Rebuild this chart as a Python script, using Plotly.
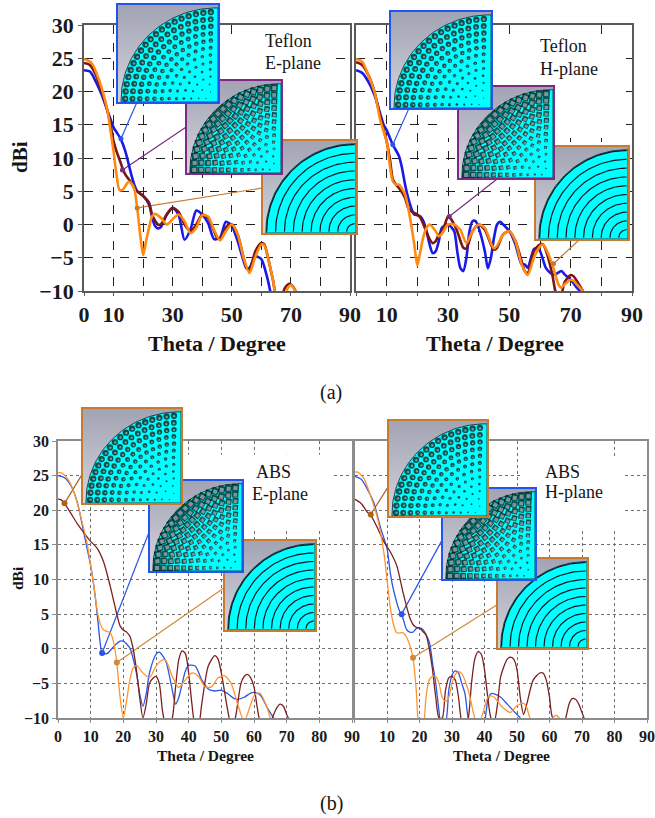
import math
import plotly.graph_objects as go

# ---------- chart data ----------
te_blue_x = [0,2,4,6,8,9,10,12,12.5,14,16,17,18,20,22,23,24,25,26,28,30,32,34,36,38,40,42,44,46,48,50,52,54,55,56,58,60,62,63,63.5]
te_blue_y = [23.2,23,21.5,19.5,17,15.8,14.6,13.2,12.8,11,7.5,6,5,4.3,3,1.2,-0.2,-0.6,-0.4,1.5,2.5,1.5,-2.3,-0.8,2.1,1.5,0.2,-2.2,-2,0.4,-0.2,-2.5,-5.5,-6.6,-6.5,-4.8,-5.2,-8,-10,-11]
te_red_x = [0,2,4,6,8,9,10,11,12,13,14,16,17,18,20,22,23,24,25,26,28,30,32,34,36,38,40,42,44,45,46,48,49,50,52,54,55,56,58,60,61,62,64,65,67,68,69.5,71,72]
te_red_y = [24.3,24,22.5,20,17,15,12.5,11,9.8,8.5,7.5,6.3,5.5,5,4.3,3.3,1.5,0.6,0,0,1.5,2.5,1.9,0,-1,0,1.5,1,-1,-2,-2.2,-0.5,0,0,-1.5,-5,-6.5,-6.8,-4,-2.8,-3,-4.5,-8.5,-10.5,-10.5,-9.5,-8.9,-9.5,-10.5]
te_or_x = [0,2,3,4,6,8,9,10,11,12,13,14,15,16,17,18,19,20,21,22,23,24,26,28,30,32,34,36,38,40,42,44,46,48,50,52,54,56,58,60,61,62,64,65,68,69,70,71,72]
te_or_y = [24.9,24.5,24,23,20.5,17,14,11,7.5,5.2,5.2,5.8,6.4,6.2,5.4,2.5,-1.5,-4.6,-2.5,-0.5,1.2,1.6,1,0,0.8,1.5,0.5,-1.3,-0.5,1.4,1.2,-0.8,-2.4,-1,0,-1.5,-5,-7.3,-4.8,-3,-3.1,-4.5,-8.5,-10.5,-10.5,-9.5,-9.1,-9.6,-10.5]

th_blue_x = [0,2,4,6,8,9,10,12,14,15,16,17,18,19,20,21,22,23,24,25,26,27,28,30,32,33,34,35,36,37,38,39,40,42,43,44,45,46,47,48,50,52,54,55,56,58,59,60,62,64,65,67,68,70,72,73,74]
th_blue_y = [23.2,22.8,21.5,19.5,16.5,15,14.2,12,10.3,8.5,6,4,2.5,1.5,1.4,1.2,0.5,-1,-3,-4.3,-4,-2.5,-0.5,0,-1,-4,-6.5,-7,-5,-1,0.5,0.5,-0.5,-4,-6.6,-5,-2,0,0.4,0,-1,-3,-6,-6,-6.5,-3.7,-3.6,-4,-6.6,-7.5,-7.5,-7,-7.5,-8.3,-9.5,-10,-11]
th_red_x = [0,2,4,6,8,10,11,12,13,14,16,17,18,20,21,22,24,25,26,27,28,29,30,31,32,33,35,36,38,40,42,44,45,46,48,50,52,54,55,56,58,60,61,62,64,65,66,67,68,70,71,72,74]
th_red_y = [24.4,24,22.5,20,16,12.5,10,6.8,6,5.5,4,2.5,2,1.5,1,0,-2.2,-2.8,-2.5,-1.5,-1.1,0,1.2,0.8,0,-1,-3.5,-3.6,-1,0,-0.8,-3,-3.8,-3.5,-1.5,-1,-2.5,-5.5,-7,-7.3,-4,-3,-3,-4,-7.5,-10,-11,-10.5,-8.7,-7.6,-7.8,-8.5,-10]
th_or_x = [0,2,4,6,8,10,11,12,13,14,16,17,18,19,20,21,22,23,24,26,27,28,30,32,34,36,38,40,42,44,45,46,48,50,52,54,56,58,60,61,62,64,66,67,68,70,71,72,74]
th_or_y = [24.9,24.5,22.5,20,15.5,12.5,9,6.5,6,6,4.5,2.5,0,-3,-6.2,-4,-1.8,-0.5,0,-1,-1.8,-1.4,0,0,-0.8,-2.8,-1,0,-0.5,-2.8,-3.6,-3.2,-1.5,-1,-2.5,-6,-7.6,-5,-3.3,-3,-3.7,-6,-9,-9.5,-9,-8.3,-8.5,-9,-10]

ae_blue_x = [0,2,4,6,8,10,11,12,13,13.5,15,17,19,20,22,24,25,26,27,28,30,31,33,35,36,37,39,40,42,44,46,48,50,52,54,55,57,59,60,62,64,66,67]
ae_blue_y = [25,24.7,23.5,21,16.5,12,9,5,0.5,-0.6,-0.7,0.3,1.1,1.1,0.1,-3.5,-6.5,-8.3,-6.5,-3.5,-0.8,-0.5,-1.8,-6,-8,-7,-3.2,-2.4,-2.5,-4.5,-5.8,-6.1,-6,-6.5,-7.2,-7.3,-7,-6.4,-6.3,-6.7,-8.5,-10,-11]
ae_red_x = [0,1,2,4,6,8,10,12,14,16,18,19,20,21,22,23,24,25,26,27,28,29,30,31,32,33,34,35,36,37,38,39,40,41,42,43,44,46,48,49,50,52,53,54,56,57,58,59,60,61,62,65,66,67,68,69,70,71]
ae_red_y = [21.6,21.5,21,19.5,18,16.7,15.5,14.5,12.5,9,5,3.3,2.7,2.4,1.8,0,-3,-7,-10,-8,-5,-4.3,-4,-5,-9,-11,-11,-10,-5.5,-1.5,-0.3,-0.7,-3.5,-8,-11,-11,-8,-2.5,-1,-1.5,-3.5,-9,-11,-10.5,-5,-4,-3.7,-4.2,-5.5,-8.5,-10.5,-10.5,-9.5,-8.5,-8,-8.3,-9.5,-10.5]
ae_or_x = [0,1,3,5,7,9,10,11,12,13,14,16,17,18,19,20,21,22,23,24,26,28,30,32,33,35,37,39,41,43,45,47,49,51,53,55,57,59,60,61,62,64,65,66]
ae_or_y = [25.4,25.4,24.5,22.5,19,15,12,9,5.5,3.5,2.7,2.3,1,-2,-7,-10,-7.5,-4.5,-2.8,-2.4,-3.5,-4.2,-2.5,-1.6,-1.7,-4,-5.6,-4.5,-3.5,-4,-5.5,-5.5,-4.2,-3.9,-5,-8,-10.5,-8,-6.8,-6.4,-6.5,-8.5,-10,-11]

ah_blue_x = [0,2,4,6,8,10,11,12,14,14.5,16,17,18,19,20,21,23,24,25,26,26.5,28,29,30,31,32,33,34,35,36,39,40,41,42,43,45,47,49,51,52]
ah_blue_y = [24.9,24.5,23,21,17.5,14.5,11,8.5,5.3,5,2.8,2.4,2.4,2.9,3,2.8,1,-2,-5,-9,-10.5,-10.5,-6,-3.8,-3.2,-3.5,-5,-6.5,-10,-11,-11,-10.5,-7.5,-6.5,-6.5,-7,-8,-9,-10,-11]
ah_red_x = [0,2,4,5,7,9,11,13,15,17,18,19,20,21,22,23,24,25,26,27,28,29,30,31,32,33,34,35,36,37,38,39,40,41,42,43,44,45,47,48,49,50,51,52,53,55,57,58,59,60,61,64,65,66,67,68,69,70,71]
ah_red_y = [21.6,21,19.7,19.3,17.5,15.5,14,12,8,4.5,3.5,3.1,3,2.5,2,0,-3,-7,-10,-10,-6,-4.2,-4,-4.5,-7,-10.5,-11,-10,-5,-1.5,-0.4,-0.8,-3,-7,-10,-10.5,-8,-4,-1.5,-1.2,-1.5,-3,-7,-9.5,-8,-4.5,-3.5,-3.5,-4.5,-7,-10,-11,-10,-8,-7.2,-7.3,-8,-9.2,-10.5]
ah_or_x = [0,1,3,5,7,9,10,11,12,13,15,16,17,18,19,19.5,20,21,21.5,22,23,24,25,26,27,28,29,30,31,32,33,35,36,37,38,39,40,41,42,43,45,47,48,50,52,53,54,56,60,61,62,63,64]
ah_or_y = [25.5,25.5,24.5,22,19,14,10,6,3.5,2.3,2.3,1.7,0.5,-1.3,-6,-10,-11,-11,-10,-7,-4.5,-4,-4,-5,-7,-7.6,-7,-5,-3.7,-3.3,-3.6,-6,-8,-10,-11,-10,-8.5,-7,-6.8,-7,-8.2,-9,-9.2,-8.2,-7.9,-8.5,-10,-11,-11,-10,-9.6,-10,-11]

y_ticks = [-10,-5,0,5,10,15,20,25,30]
x_ticks = [0,10,20,30,40,50,60,70,80,90]
tick_labels_a_left = ["0","10","","30","","50","","70","","90"]
tick_labels_a_right = ["","10","","30","","50","","70","","90"]
tick_labels_b_left = ["0","10","20","30","40","50","60","70","80","90"]
tick_labels_b_right = ["","10","20","30","40","50","60","70","80","90"]

W, H = 655, 818
SERIF = "Liberation Serif"
A_COL = ("#1a1ae6", "#7a1616", "#ff8a12")
B_COL = ("#2a55e6", "#7a2020", "#ff9430")
BLUE_B, PUR_B, ORG_B = "#2255f0", "#7c2a84", "#c87b30"

panels = [
    dict(box=(84,350,25,291), series=((te_blue_x,te_blue_y),(te_red_x,te_red_y),(te_or_x,te_or_y)), cols=A_COL, lw=2.6,
         tl=tick_labels_a_left, big=True, ylab=True,
         white=[(21.8,84.3,12.5,28.2),(54,84.3,28.2,30)],
         leaders=[((12.5,12.9),(17.9,18.4),"#2a55e6"),((13,8.2),(34.7,14.7),"#7c2a84"),((18,2.5),(60.5,5.5),"#c87b30")],
         insets=[((263,356,141,233),"g",ORG_B),((187,281,81,173),"s",PUR_B),((118,218,5,102),"c",BLUE_B)]),
    dict(box=(356,632,25,291), series=((th_blue_x,th_blue_y),(th_red_x,th_red_y),(th_or_x,th_or_y)), cols=A_COL, lw=2.6,
         tl=tick_labels_a_right, big=True, ylab=False,
         white=[(27.4,88,13,27.5),(51.4,78.8,27.5,30)],
         leaders=[((12,12),(17.3,17.5),"#2a55e6"),((30.4,1.2),(45.9,6.8),"#7c2a84"),((64.4,-5.9),(72.8,-2.3),"#c87b30")],
         insets=[((536,628,147,239),"g",ORG_B),((459,553,87,178),"s",PUR_B),((391,491,12,108),"c",BLUE_B)]),
    dict(box=(58,352,441,718), series=((ae_blue_x,ae_blue_y),(ae_red_x,ae_red_y),(ae_or_x,ae_or_y)), cols=B_COL, lw=1.3,
         tl=tick_labels_b_left, big=False, ylab=True,
         white=[(37.8,84.3,17.4,28),(61.8,77,28,30)],
         leaders=[((2,21),(7.65,25.4),"#a8641c"),((13.5,-0.6),(28.1,17.1),"#2a55e6"),((18,-2),(51,8.85),"#d08a40")],
         insets=[((225,315,541,630),"g",ORG_B),((150,242,481,571),"s",BLUE_B),((83,181,409,503),"c",ORG_B)]),
    dict(box=(354.5,647,441,718), series=((ah_blue_x,ah_blue_y),(ah_red_x,ah_red_y),(ah_or_x,ah_or_y)), cols=B_COL, lw=1.3,
         tl=tick_labels_b_right, big=False, ylab=False,
         white=[(51,83,17.1,27.7),(52,77,27.7,30)],
         leaders=[((5,19.4),(10.65,23.6),"#a8641c"),((14.5,5),(27.2,15.9),"#2a55e6"),((18,-1.3),(44,6.4),"#d08a40")],
         insets=[((498,587,559,648),"g",ORG_B),((443,535,489,579),"s",BLUE_B),((389,487,421,516),"c",ORG_B)]),
]

fig = go.Figure()
layout = {}
shapes = []
annotations = []

def dom_x(a, b):
    return [a / W, b / W]

def dom_y(t, b):
    return [1 - b / H, 1 - t / H]

def names(i):
    s = "" if i == 1 else str(i)
    return "x" + s, "y" + s, "xaxis" + s, "yaxis" + s

# main plots
for i, p in enumerate(panels, start=1):
    xr, yr, xk, yk = names(i)
    l, r, t, b = p["box"]
    big = p["big"]
    line_col = "#5a5a5a" if big else "#8c8c8c"
    grid_col = "#222222" if big else "#6e6e6e"
    font = dict(family=SERIF, size=22 if big else 16, color="#1a1a1a")
    layout[xk] = dict(domain=dom_x(l, r), range=[0, 90], anchor=yr, tickmode="array", tickvals=x_ticks, ticktext=p["tl"],
                      automargin=False,
                      showgrid=True, gridcolor=grid_col, griddash="dash" if big else "dot", gridwidth=1.2 if big else 1,
                      showline=True, linecolor=line_col, linewidth=1.6, mirror=True, ticks="outside", ticklen=3,
                      tickcolor=line_col, tickfont=dict(font, weight="bold"), zeroline=False)
    layout[yk] = dict(domain=dom_y(t, b), range=[-10, 30], anchor=xr, tickmode="array", tickvals=y_ticks,
                      automargin=False,
                      showticklabels=p["ylab"], showgrid=True, gridcolor=grid_col, griddash="dash" if big else "dot",
                      gridwidth=1.2 if big else 1, showline=True, linecolor=line_col, linewidth=1.6, mirror=True,
                      ticks="outside" if p["ylab"] else "", ticklen=4, tickcolor=line_col,
                      tickfont=dict(font, weight="bold"), zeroline=False)
    for (x0, x1, y0, y1) in p["white"]:
        shapes.append(dict(type="rect", xref=xr, yref=yr, x0=x0, x1=x1, y0=y0, y1=y1,
                           fillcolor="white", line_width=0, layer="between"))
    for (a, e, c) in p["leaders"]:
        fig.add_trace(go.Scatter(x=[a[0], e[0]], y=[a[1], e[1]], xaxis=xr, yaxis=yr, mode="lines",
                                 line=dict(color=c, width=1.2), showlegend=False, hoverinfo="skip"))
    for (xs, ys), c in zip(p["series"], p["cols"]):
        fig.add_trace(go.Scatter(x=xs, y=ys, xaxis=xr, yaxis=yr, mode="lines",
                                 line=dict(color=c, width=p["lw"], shape="spline", smoothing=0.7),
                                 showlegend=False, hoverinfo="skip"))
    for (a, e, c) in p["leaders"]:
        fig.add_trace(go.Scatter(x=[a[0]], y=[a[1]], xaxis=xr, yaxis=yr, mode="markers",
                                 marker=dict(color=c, size=6 if not big else 5), showlegend=False, hoverinfo="skip"))

# decorative antenna insets
def add_inset(idx, box, kind, border):
    xr, yr, xk, yk = names(idx)
    l, r, t, b = box
    ax = dict(showticklabels=False, ticks="", showgrid=False, zeroline=False, showline=True, linecolor=border,
              linewidth=2, mirror=True, range=[0, 1], fixedrange=True, automargin=False)
    layout[xk] = dict(ax, domain=dom_x(l, r), anchor=yr)
    layout[yk] = dict(ax, domain=dom_y(t, b), anchor=xr)
    fig.add_trace(go.Heatmap(x=[0, 1], y=[0, 0.33, 0.66, 1], z=[[3, 3], [2, 2], [1, 1], [0, 0]], xaxis=xr, yaxis=yr,
                             colorscale=[[0, "#a2a4b4"], [1, "#d4d5dc"]], showscale=False, zsmooth="best", hoverinfo="skip"))
    cx, cy, R = 0.985, 0.015, 0.955
    steps = 50
    arc_t = [math.pi / 2 * j / steps for j in range(steps + 1)]
    dx = [cx - R] + [cx - R * math.cos(a) for a in arc_t] + [1.0, 1.0, cx - R]
    dy = [0.0] + [cy + R * math.sin(a) for a in arc_t] + [cy + R, 0.0, 0.0]
    fig.add_trace(go.Scatter(x=dx, y=dy, xaxis=xr, yaxis=yr, mode="lines", fill="toself", fillcolor="#00ffff",
                             line=dict(color="#1c1c2a", width=0.8), showlegend=False, hoverinfo="skip"))
    if kind == "g":
        rings = 11
        for k in range(1, rings):
            rr = R * (k - 0.1) / (rings - 1)
            fig.add_trace(go.Scatter(x=[cx - rr * math.cos(a) for a in arc_t], y=[cy + rr * math.sin(a) for a in arc_t],
                                     xaxis=xr, yaxis=yr, mode="lines", line=dict(color="#0a1a20", width=1.2),
                                     showlegend=False, hoverinfo="skip"))
        return
    rings = 13
    hx, hy, hs, ha, gx, gy, gs, ga = [], [], [], [], [], [], [], []
    for k in range(1, rings):
        rr = R * (k + 0.45) / rings
        n = max(2, round(math.pi / 2 * k))
        size = (0.8 + 0.46 * k) if kind == "c" else (1 + 0.5 * k)
        for j in range(n):
            a = math.pi / 2 * (j + 0.25) / n
            x = cx - rr * math.cos(a)
            y = cy + rr * math.sin(a)
            hx.append(x); hy.append(y); hs.append(size); ha.append(-math.degrees(a))
            if k >= (5 if kind == "c" else 3):
                gx.append(x + 0.006 * math.cos(a)); gy.append(y - 0.006 * math.sin(a))
                gs.append(size * (0.4 if kind == "c" else 0.58)); ga.append(-math.degrees(a))
    sym = "circle" if kind == "c" else "square"
    fig.add_trace(go.Scatter(x=hx, y=hy, xaxis=xr, yaxis=yr, mode="markers",
                             marker=dict(symbol=sym, size=hs, color="#060606", angle=ha, line=dict(width=0)),
                             showlegend=False, hoverinfo="skip"))
    fig.add_trace(go.Scatter(x=gx, y=gy, xaxis=xr, yaxis=yr, mode="markers",
                             marker=dict(symbol=sym, size=gs, color="#b0b0b8", angle=ga, line=dict(width=0)),
                             showlegend=False, hoverinfo="skip"))

idx = 5
for p in panels:
    for box, kind, border in p["insets"]:
        add_inset(idx, box, kind, border)
        idx += 1

def text(s, px, py, size, bold=False, anchor="left", angle=0):
    annotations.append(dict(text=s, x=px / W, y=1 - py / H, xref="paper", yref="paper", xanchor=anchor, yanchor="middle",
                            showarrow=False, textangle=angle,
                            font=dict(family=SERIF, size=size, color="#151515", weight="bold" if bold else "normal")))

text("Teflon", 263, 41, 18); text("E-plane", 263, 63, 18)
text("Teflon", 538, 46, 18); text("H-plane", 538, 69, 18)
text("ABS", 254, 472, 18); text("E-plane", 250, 494, 18)
text("ABS", 543, 472, 18); text("H-plane", 543, 492, 18)
text("Theta / Degree", 217, 343, 22, True, "center")
text("Theta / Degree", 494.5, 343, 22, True, "center")
text("Theta / Degree", 205, 755, 15.5, True, "center")
text("Theta / Degree", 501, 755, 15.5, True, "center")
text("dBi", 20, 157, 21, True, "center", -90)
text("dBi", 17, 578, 15.5, True, "center", -90)
text("(a)", 331, 392, 20, False, "center")
text("(b)", 331, 803, 20, False, "center")

fig.update_layout(width=W, height=H, autosize=False, margin=dict(l=0, r=0, t=0, b=0, pad=0), paper_bgcolor="white",
                  plot_bgcolor="rgba(0,0,0,0)", showlegend=False, shapes=shapes, annotations=annotations, **layout)
fig.write_html("out.html", config=dict(displayModeBar=False),
               post_script="document.body.style.margin='0';document.documentElement.style.overflow='hidden';")
